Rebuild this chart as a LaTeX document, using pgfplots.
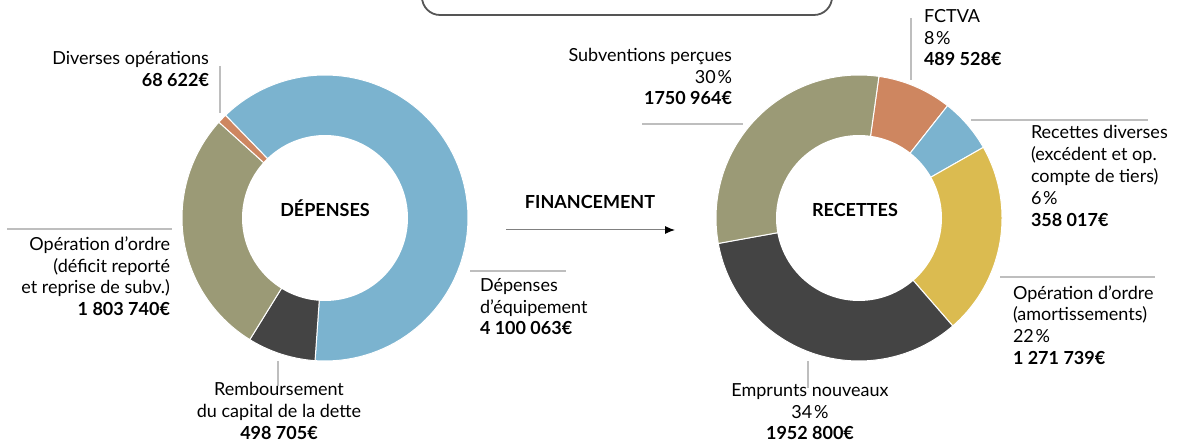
\documentclass[border=0pt]{standalone}
\usepackage{fontspec}
\setmainfont{Lato}
\usepackage{pgfplots}
\pgfplotsset{compat=1.18}
\usetikzlibrary{arrows.meta}

\definecolor{cblue}{RGB}{123,179,207}
\definecolor{colive}{RGB}{155,154,118}
\definecolor{cdark}{RGB}{68,68,68}
\definecolor{corange}{RGB}{206,134,96}
\definecolor{cyellow}{RGB}{219,187,80}
\definecolor{cline}{RGB}{190,190,190}
\definecolor{cbox}{RGB}{85,85,85}

% ---- DEPENSES (euros) ----
\def\dEquip{4100063}
\def\dRemb{498705}
\def\dOrdre{1803740}
\def\dDiv{68622}
\edef\dTot{\fpeval{\dEquip+\dRemb+\dOrdre+\dDiv}}
\edef\dA{134.1}
\edef\dB{\fpeval{\dA-360*\dEquip/\dTot}}
\edef\dC{\fpeval{\dB-360*\dRemb/\dTot}}
\edef\dD{\fpeval{\dC-360*\dOrdre/\dTot}}
\edef\dE{\fpeval{\dD-360*\dDiv/\dTot}}

% ---- RECETTES (euros) ----
\def\rFctva{489528}
\def\rDiv{358017}
\def\rOrdre{1271739}
\def\rEmpr{1952800}
\def\rSubv{1750964}
\edef\rTot{\fpeval{\rFctva+\rDiv+\rOrdre+\rEmpr+\rSubv}}
\edef\rA{82}
\edef\rB{\fpeval{\rA-360*\rFctva/\rTot}}
\edef\rC{\fpeval{\rB-360*\rDiv/\rTot}}
\edef\rD{\fpeval{\rC-360*\rOrdre/\rTot}}
\edef\rE{\fpeval{\rD-360*\rEmpr/\rTot}}
\edef\rF{\fpeval{\rE-360*\rSubv/\rTot}}

\newcommand{\slice}[5]{%
  \addplot[fill=#5, draw=white, line width=0.5pt, domain=#4:#3, samples=90, variable=\t]
    ({#1+143*cos(\t)},{#2-143*sin(\t)}) -- (#1,#2) -- cycle;}
\newcommand{\hole}[2]{%
  \addplot[fill=white, draw=none, domain=0:360, samples=120, variable=\t]
    ({#1+83*cos(\t)},{#2-83*sin(\t)}) -- cycle;}

\newcommand{\lbl}{\fontsize{9}{10.8}\selectfont}
\tikzset{L/.style={inner sep=0pt, outer sep=0pt, font=\lbl}}
\newcommand{\pc}{\kern0.1em\%}

\begin{document}
\begin{tikzpicture}
\begin{axis}[
  scale only axis, width=588.5pt, height=221pt,
  xmin=0, xmax=1177, ymin=0, ymax=442, y dir=reverse,
  hide axis, clip=false]

% Depenses donut
\slice{325}{218}{\dA}{\dB}{cblue}
\slice{325}{218}{\dB}{\dC}{cdark}
\slice{325}{218}{\dC}{\dD}{colive}
\slice{325}{218}{\dD}{\dE}{corange}
\hole{325}{218}

% Recettes donut
\slice{859}{218}{\rA}{\rB}{corange}
\slice{859}{218}{\rB}{\rC}{cblue}
\slice{859}{218}{\rC}{\rD}{cyellow}
\slice{859}{218}{\rD}{\rE}{cdark}
\slice{859}{218}{\rE}{\rF}{colive}
\hole{859}{218}

% top box
\draw[cbox, line width=0.9pt, rounded corners=9pt] (422,-40) rectangle (832,15);

% leader lines
\begin{scope}[cline, line width=1.35pt]
\draw (220,66) -- (220,113);
\draw (7,229) -- (172,229);
\draw (278,361) -- (278,386);
\draw (470,271) -- (566,271);
\draw (642,124) -- (743,124);
\draw (911,18) -- (911,80);
\draw (971,120) -- (1148,120);
\draw (1000,277) -- (1155,277);
\draw (808,361) -- (808,388);
\end{scope}

% arrow
\draw[gray, line width=0.5pt, -{Latex[black,length=5pt,width=4pt]}] (506,230) -- (675,230);

% centre titles
\node[L, anchor=base] at (325,216.7) {\textbf{DÉPENSES}};
\node[L, anchor=base] at (855,216.7) {\textbf{RECETTES}};
\node[L, anchor=base] at (590,209) {\textbf{FINANCEMENT}};

% left labels
\node[L, anchor=base east] at (209,65) {Diverses opérations};
\node[L, anchor=base east] at (209,87) {\textbf{68 622€}};

\node[L, anchor=base east] at (170,251) {Opération d’ordre};
\node[L, anchor=base east] at (170,272.5) {(déficit reporté};
\node[L, anchor=base east] at (170,294) {et reprise de subv.)};
\node[L, anchor=base east] at (170,316) {\textbf{1 803 740€}};

\node[L, anchor=base] at (279,396) {Remboursement};
\node[L, anchor=base] at (279,418) {du capital de la dette};
\node[L, anchor=base] at (279,440) {\textbf{498 705€}};

\node[L, anchor=base west] at (480,292) {Dépenses};
\node[L, anchor=base west] at (480,313.5) {d’équipement};
\node[L, anchor=base west] at (480,335) {\textbf{4 100 063€}};

% right labels
\node[L, anchor=base east] at (732,62) {Subventions perçues};
\node[L, anchor=base east] at (732,83.5) {30\pc};
\node[L, anchor=base east] at (732,105) {\textbf{1750 964€}};

\node[L, anchor=base west] at (924,22.7) {FCTVA};
\node[L, anchor=base west] at (924,44.3) {8\pc};
\node[L, anchor=base west] at (924,65.7) {\textbf{489 528€}};

\node[L, anchor=base west] at (1031,139) {Recettes diverses};
\node[L, anchor=base west] at (1031,161) {(excédent et op.};
\node[L, anchor=base west] at (1031,182.7) {compte de tiers)};
\node[L, anchor=base west] at (1031,204.3) {6\pc};
\node[L, anchor=base west] at (1031,226.7) {\textbf{358 017€}};

\node[L, anchor=base west] at (1013,299.3) {Opération d’ordre};
\node[L, anchor=base west] at (1013,321) {(amortissements)};
\node[L, anchor=base west] at (1013,342.7) {22\pc};
\node[L, anchor=base west] at (1013,364.3) {\textbf{1 271 739€}};

\node[L, anchor=base] at (810,396.7) {Emprunts nouveaux};
\node[L, anchor=base] at (810,418.3) {34\pc};
\node[L, anchor=base] at (810,440) {\textbf{1952 800€}};

\end{axis}
\pgfresetboundingbox
\path[use as bounding box] (current axis.south west) rectangle (current axis.north east);
\end{tikzpicture}
\end{document}
